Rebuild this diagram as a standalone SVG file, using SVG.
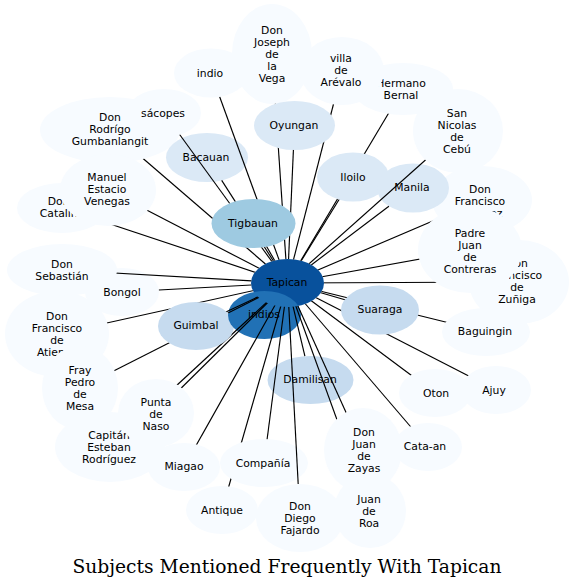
<svg xmlns="http://www.w3.org/2000/svg" width="575" height="588" viewBox="0 0 575 588">
<style>
.pale{fill:#f7fbff}
.c1{fill:#dbe9f6}
.c2{fill:#c6dbef}
.c3{fill:#9ecae1}
.c4{fill:#2171b5}
.c5{fill:#08519c}
text{font-family:"DejaVu Sans",sans-serif;font-size:10.8px;text-anchor:middle;fill:#000}
.title{font-family:"DejaVu Serif",serif;font-size:19px}
#connectors line{stroke:#000;stroke-width:1.15}
</style>
<defs>
<mask id="occl" maskUnits="userSpaceOnUse" x="0" y="0" width="575" height="588">
<rect width="575" height="588" fill="#fff"/>
<g fill="#000">
<ellipse cx="110" cy="130" rx="70" ry="33"/>
<ellipse cx="164" cy="113" rx="37" ry="24"/>
<ellipse cx="211" cy="73" rx="37" ry="24.5"/>
<ellipse cx="272" cy="54" rx="40" ry="50"/>
<ellipse cx="403" cy="89" rx="50" ry="26"/>
<ellipse cx="342" cy="71" rx="42" ry="34"/>
<ellipse cx="458" cy="131" rx="45" ry="42"/>
<ellipse cx="482" cy="200" rx="50" ry="34"/>
<ellipse cx="519" cy="282" rx="50" ry="42"/>
<ellipse cx="470" cy="250" rx="52" ry="43"/>
<ellipse cx="486" cy="332" rx="44" ry="24"/>
<ellipse cx="496" cy="390" rx="35" ry="24"/>
<ellipse cx="435" cy="393" rx="36" ry="24"/>
<ellipse cx="428" cy="447" rx="34" ry="24"/>
<ellipse cx="370" cy="511" rx="36" ry="37"/>
<ellipse cx="363" cy="450" rx="39" ry="42"/>
<ellipse cx="300" cy="518" rx="44" ry="34"/>
<ellipse cx="222" cy="510" rx="36" ry="24"/>
<ellipse cx="264" cy="463" rx="44" ry="24"/>
<ellipse cx="184" cy="467" rx="36" ry="24"/>
<ellipse cx="110" cy="447" rx="55" ry="35"/>
<ellipse cx="156" cy="413" rx="38" ry="34"/>
<ellipse cx="57" cy="334" rx="52" ry="43"/>
<ellipse cx="80" cy="388" rx="38" ry="42"/>
<ellipse cx="62" cy="270" rx="55" ry="26"/>
<ellipse cx="62" cy="208" rx="45" ry="25"/>
<ellipse cx="108" cy="190" rx="48" ry="36"/>
<ellipse cx="294.5" cy="125.5" rx="40.5" ry="24.5"/>
<ellipse cx="353" cy="177" rx="36" ry="24.5"/>
<ellipse cx="253.5" cy="223.5" rx="42" ry="24.5"/>
<ellipse cx="196" cy="326" rx="38" ry="24"/>
<ellipse cx="380" cy="310" rx="39" ry="24.5"/>
<ellipse cx="287.5" cy="283" rx="36.5" ry="24"/>
</g>
</mask>
</defs>
<rect width="575" height="588" fill="#fff"/>

<g id="node-rodrigo"><ellipse class="pale" cx="110" cy="130" rx="70" ry="33"/><text x="110" y="121">Don<tspan x="110" y="133">Rodrígo</tspan><tspan x="110" y="145">Gumbanlangit</tspan></text></g>
<g id="node-sacopes"><ellipse class="pale" cx="164" cy="113" rx="37" ry="24"/><text x="163" y="117">sácopes</text></g>
<g id="node-indio"><ellipse class="pale" cx="211" cy="73" rx="37" ry="24.5"/><text x="210" y="77">indio</text></g>
<g id="node-joseph"><ellipse class="pale" cx="272" cy="54" rx="40" ry="50"/><text x="272" y="34">Don<tspan x="272" y="46">Joseph</tspan><tspan x="272" y="58">de</tspan><tspan x="272" y="70">la</tspan><tspan x="272" y="82">Vega</tspan></text></g>
<g id="node-hermano"><ellipse class="pale" cx="403" cy="89" rx="50" ry="26"/><text x="401" y="87">Hermano<tspan x="401" y="99">Bernal</tspan></text></g>
<g id="node-villa"><ellipse class="pale" cx="342" cy="71" rx="42" ry="34"/><text x="341" y="62">villa<tspan x="341" y="74">de</tspan><tspan x="341" y="86">Arévalo</tspan></text></g>
<g id="node-sannicolas"><ellipse class="pale" cx="458" cy="131" rx="45" ry="42"/><text x="457" y="117">San<tspan x="457" y="129">Nicolas</tspan><tspan x="457" y="141">de</tspan><tspan x="457" y="153">Cebú</tspan></text></g>
<g id="node-dfx"><ellipse class="pale" cx="482" cy="200" rx="50" ry="34"/><text x="480" y="193">Don<tspan x="480" y="205">Francisco</tspan><tspan x="480" y="217">Vázquez</tspan></text></g>
<g id="node-zuniga"><ellipse class="pale" cx="519" cy="282" rx="50" ry="42"/><text x="517" y="267">Don<tspan x="517" y="279">Francisco</tspan><tspan x="517" y="291">de</tspan><tspan x="517" y="303">Zuñiga</tspan></text></g>
<g id="node-padre"><ellipse class="pale" cx="470" cy="250" rx="52" ry="43"/><text x="470" y="236.5">Padre<tspan x="470" y="248.5">Juan</tspan><tspan x="470" y="260.5">de</tspan><tspan x="470" y="272.5">Contreras</tspan></text></g>
<g id="node-baguingin"><ellipse class="pale" cx="486" cy="332" rx="44" ry="24"/><text x="485" y="335">Baguingin</text></g>
<g id="node-ajuy"><ellipse class="pale" cx="496" cy="390" rx="35" ry="24"/><text x="494" y="394">Ajuy</text></g>
<g id="node-oton"><ellipse class="pale" cx="435" cy="393" rx="36" ry="24"/><text x="436" y="397">Oton</text></g>
<g id="node-cataan"><ellipse class="pale" cx="428" cy="447" rx="34" ry="24"/><text x="425" y="450">Cata-an</text></g>
<g id="node-roa"><ellipse class="pale" cx="370" cy="511" rx="36" ry="37"/><text x="369" y="503">Juan<tspan x="369" y="515">de</tspan><tspan x="369" y="527">Roa</tspan></text></g>
<g id="node-zayas"><ellipse class="pale" cx="363" cy="450" rx="39" ry="42"/><text x="364" y="436">Don<tspan x="364" y="448">Juan</tspan><tspan x="364" y="460">de</tspan><tspan x="364" y="472">Zayas</tspan></text></g>
<g id="node-diego"><ellipse class="pale" cx="300" cy="518" rx="44" ry="34"/><text x="300" y="510">Don<tspan x="300" y="522">Diego</tspan><tspan x="300" y="534">Fajardo</tspan></text></g>
<g id="node-antique"><ellipse class="pale" cx="222" cy="510" rx="36" ry="24"/><text x="222" y="514">Antique</text></g>
<g id="node-compania"><ellipse class="pale" cx="264" cy="463" rx="44" ry="24"/><text x="263" y="467">Compañía</text></g>
<g id="node-miagao"><ellipse class="pale" cx="184" cy="467" rx="36" ry="24"/><text x="184" y="470">Miagao</text></g>
<g id="node-capitan"><ellipse class="pale" cx="110" cy="447" rx="55" ry="35"/><text x="109" y="439">Capitán<tspan x="109" y="451">Esteban</tspan><tspan x="109" y="463">Rodríguez</tspan></text></g>
<g id="node-punta"><ellipse class="pale" cx="156" cy="413" rx="38" ry="34"/><text x="156" y="406">Punta<tspan x="156" y="418">de</tspan><tspan x="156" y="430">Naso</tspan></text></g>
<g id="node-atienza"><ellipse class="pale" cx="57" cy="334" rx="52" ry="43"/><text x="57" y="320">Don<tspan x="57" y="332">Francisco</tspan><tspan x="57" y="344">de</tspan><tspan x="57" y="356">Atienza</tspan></text></g>
<g id="node-fray"><ellipse class="pale" cx="80" cy="388" rx="38" ry="42"/><text x="80" y="374">Fray<tspan x="80" y="386">Pedro</tspan><tspan x="80" y="398">de</tspan><tspan x="80" y="410">Mesa</tspan></text></g>
<g id="node-sebastian"><ellipse class="pale" cx="62" cy="270" rx="55" ry="26"/><text x="62" y="268">Don<tspan x="62" y="280">Sebastián</tspan></text></g>
<g id="node-bongol"><ellipse class="pale" cx="122" cy="292" rx="37" ry="24"/><text x="122" y="296">Bongol</text></g>
<g id="node-catalina"><ellipse class="pale" cx="62" cy="208" rx="45" ry="25"/><text x="62" y="205">Doña<tspan x="62" y="217">Catalina</tspan></text></g>
<g id="node-manuel"><ellipse class="pale" cx="108" cy="190" rx="48" ry="36"/><text x="107" y="181">Manuel<tspan x="107" y="193">Estacio</tspan><tspan x="107" y="205">Venegas</tspan></text></g>
<g id="node-oyungan"><ellipse class="c1" cx="294.5" cy="125.5" rx="40.5" ry="24.5"/><text x="294" y="129">Oyungan</text></g>
<g id="node-bacauan"><ellipse class="c1" cx="207" cy="157.5" rx="41" ry="24.5"/><text x="206" y="160.5">Bacauan</text></g>
<g id="node-iloilo"><ellipse class="c1" cx="353" cy="177" rx="36" ry="24.5"/><text x="353" y="180.5">Iloilo</text></g>
<g id="node-manila"><ellipse class="c1" cx="413" cy="188" rx="36" ry="24.5"/><text x="412" y="191">Manila</text></g>
<g id="node-tigbauan"><ellipse class="c3" cx="253.5" cy="223.5" rx="42" ry="24.5"/><text x="253" y="227">Tigbauan</text></g>
<g id="node-guimbal"><ellipse class="c2" cx="196" cy="326" rx="38" ry="24"/><text x="196" y="329">Guimbal</text></g>
<g id="node-suaraga"><ellipse class="c2" cx="380" cy="310" rx="39" ry="24.5"/><text x="380" y="313">Suaraga</text></g>
<g id="node-damilisan"><ellipse class="c2" cx="310.5" cy="380" rx="43" ry="24"/><text x="310" y="383">Damilisan</text></g>
<g id="node-tapican"><ellipse class="c5" cx="287.5" cy="283" rx="36.5" ry="24"/><text x="287" y="286">Tapican</text></g>
<g id="node-indios"><ellipse class="c4" cx="264.5" cy="315" rx="36.5" ry="24"/><text x="264" y="318">indios</text></g>

<g id="connectors">
<g mask="url(#occl)">
<line x1="287.5" y1="283" x2="211" y2="73"/>
<line x1="287.5" y1="283" x2="272" y2="54"/>
<line x1="287.5" y1="283" x2="342" y2="71"/>
<line x1="287.5" y1="283" x2="403" y2="89"/>
<line x1="287.5" y1="283" x2="458" y2="131"/>
<line x1="287.5" y1="283" x2="294.5" y2="125.5"/>
<line x1="287.5" y1="283" x2="353" y2="177"/>
<line x1="287.5" y1="283" x2="388.9" y2="206.2"/>
<line x1="287.5" y1="283" x2="482" y2="200"/>
<line x1="287.5" y1="283" x2="470" y2="250"/>
<line x1="287.5" y1="283" x2="519" y2="282"/>
<line x1="287.5" y1="283" x2="380" y2="310"/>
<line x1="287.5" y1="283" x2="486" y2="332"/>
<line x1="287.5" y1="283" x2="496" y2="390"/>
<line x1="287.5" y1="283" x2="435" y2="393"/>
<line x1="287.5" y1="283" x2="428" y2="447"/>
<line x1="287.5" y1="283" x2="363" y2="450"/>
<line x1="287.5" y1="283" x2="370" y2="511"/>
<line x1="287.5" y1="283" x2="304.9" y2="356.2"/>
<line x1="287.5" y1="283" x2="264" y2="463"/>
<line x1="287.5" y1="283" x2="222" y2="510"/>
<line x1="287.5" y1="283" x2="184" y2="467"/>
<line x1="287.5" y1="283" x2="156" y2="413"/>
<line x1="287.5" y1="283" x2="110" y2="447"/>
<line x1="287.5" y1="283" x2="80" y2="388"/>
<line x1="287.5" y1="283" x2="57" y2="334"/>
<line x1="287.5" y1="283" x2="196" y2="326"/>
<line x1="287.5" y1="283" x2="158.9" y2="290"/>
<line x1="287.5" y1="283" x2="62" y2="270"/>
<line x1="287.5" y1="283" x2="62" y2="208"/>
<line x1="287.5" y1="283" x2="108" y2="190"/>
<line x1="287.5" y1="283" x2="110" y2="130"/>
<line x1="287.5" y1="283" x2="164" y2="113"/>
<line x1="287.5" y1="283" x2="221.7" y2="180.4"/>
<line x1="287.5" y1="283" x2="253.5" y2="223.5"/>
<line x1="287.5" y1="283" x2="280.1" y2="293.3"/>
</g>
<line x1="288.8" y1="307" x2="298.2" y2="484"/>
</g>

<text class="title" x="287" y="573" textLength="429" lengthAdjust="spacingAndGlyphs">Subjects Mentioned Frequently With Tapican</text>
</svg>
